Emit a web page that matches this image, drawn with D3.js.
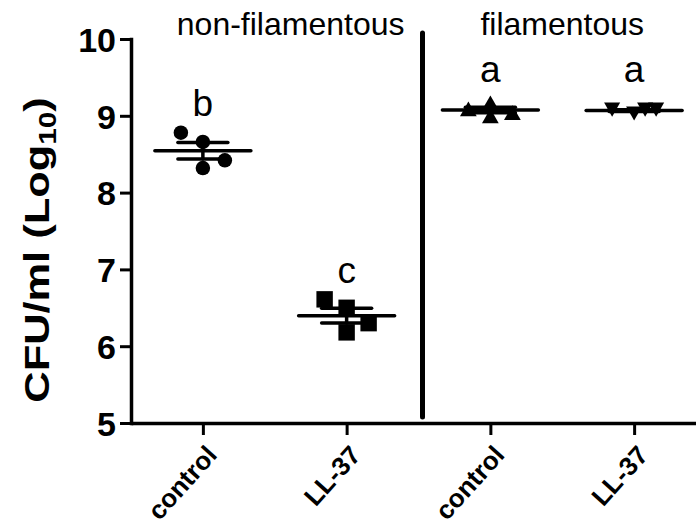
<!DOCTYPE html>
<html>
<head>
<meta charset="utf-8">
<script src="https://cdn.jsdelivr.net/npm/d3@7"></script>
<style>
    body { margin: 0; background: #fff; }
    text { font-family: "Liberation Sans", Arial, Helvetica, sans-serif; fill: #000; }
</style>
</head>
<body>
<svg id="chart" width="696" height="529"></svg>
<script>
// groups (left to right) and their tick labels
const groups = ["nf-control", "nf-LL37", "f-control", "f-LL37"];
const tickLabels = ["control", "LL-37", "control", "LL-37"];
const symbolKinds = ["circle", "square", "triangleUp", "triangleDown"];

// CFU/ml (log10) for each replicate
const nfControl = [8.78, 8.66, 8.42, 8.32];
const nfLL37 = [6.61, 6.50, 6.30, 6.18];
const fControl = [9.17, 9.09, 9.00, 9.04];
const fLL37 = [9.08, 9.03, 9.08, 9.08];
const replicates = [nfControl, nfLL37, fControl, fLL37];

// significance letters and the height (in log10 units) where they sit
const letters = ["b", "c", "a", "a"];
const letterAt = [9.0, 6.82, 9.44, 9.44];

const panelTitles = ["non-filamentous", "filamentous"];
const yTicks = [5, 6, 7, 8, 9, 10];

const svg = d3.select("#chart");

const x = d3.scalePoint().domain(groups).range([131, 706]).padding(0.5);
const y = d3.scaleLinear().domain([5, 10]).range([423, 39]);

// y axis
const yAxis = svg.append("g")
    .attr("transform", "translate(131,0)")
    .call(d3.axisLeft(y).tickValues(yTicks).tickFormat(d3.format("d"))
        .tickSize(11).tickSizeOuter(0).tickPadding(4));
yAxis.select(".domain").attr("stroke-width", 3.5).attr("stroke-linecap", "square");
yAxis.selectAll(".tick line").attr("stroke-width", 3);
yAxis.selectAll(".tick text")
    .attr("font-size", 34)
    .attr("font-weight", "bold")
    .attr("dy", "0.36em");

// x axis
const xAxis = svg.append("g")
    .attr("transform", `translate(0,${y(5)})`)
    .call(d3.axisBottom(x).tickSize(12).tickSizeOuter(0).tickFormat((d, i) => tickLabels[i]));
xAxis.select(".domain").attr("stroke-width", 3.5);
xAxis.selectAll(".tick line").attr("stroke-width", 3);
xAxis.selectAll(".tick text")
    .attr("font-size", 26)
    .attr("font-weight", "bold")
    .attr("text-anchor", "end")
    .attr("y", 0)
    .attr("dy", 0)
    .attr("transform", "translate(15,33) rotate(-48)");

svg.selectAll("g").attr("font-family", null);
svg.selectAll(".domain, .tick line").attr("stroke", "#000");
svg.selectAll(".tick text").attr("fill", "#000");

// divider between the two panels
const divX = (x(groups[1]) + x(groups[2])) / 2 + 4;
svg.append("line")
    .attr("x1", divX).attr("x2", divX)
    .attr("y1", y(10) - 6).attr("y2", y(5) - 6)
    .attr("stroke", "#000")
    .attr("stroke-width", 5)
    .attr("stroke-linecap", "round");

// panel titles
svg.append("text")
    .attr("x", divX - 18).attr("y", 35)
    .attr("text-anchor", "end")
    .attr("font-size", 32)
    .text(panelTitles[0]);
svg.append("text")
    .attr("x", (x(groups[2]) + x(groups[3])) / 2).attr("y", 35)
    .attr("text-anchor", "middle")
    .attr("font-size", 32)
    .text(panelTitles[1]);

// y title with subscript
const yTitle = svg.append("text")
    .attr("transform", `translate(49,${(y(5) + y(10)) / 2 + 19}) rotate(-90) scale(1.24,1)`)
    .attr("text-anchor", "middle")
    .attr("font-size", 35)
    .attr("font-weight", "bold");
yTitle.append("tspan").text("CFU/ml (Log");
yTitle.append("tspan").attr("font-size", 24).attr("dy", 7).text("10");
yTitle.append("tspan").attr("dy", -7).text(")");

// symbols
function triangle(dir) {
    return {
        draw(ctx, size) {
            const w = Math.sqrt(size), h = w * 0.88;
            ctx.moveTo(0, -dir * h / 2);
            ctx.lineTo(w / 2, dir * h / 2);
            ctx.lineTo(-w / 2, dir * h / 2);
            ctx.closePath();
        }
    };
}
const symbolTypes = {
    circle: [d3.symbolCircle, 165],
    square: [d3.symbolSquare, 270],
    triangleUp: [triangle(1), 280],
    triangleDown: [triangle(-1), 260]
};

// GraphPad-like horizontal spread: points that overlap get pushed sideways
function spread(vals, step) {
    const order = d3.range(vals.length).sort((a, b) => vals[a] - vals[b]);
    const placed = [];
    const offsets = new Array(vals.length).fill(0);
    const cands = [1, -1, 0.5, -0.5, 1.5, -1.5, 2, -2];
    let side = 1;
    for (const i of order) {
        const py = y(vals[i]);
        const hit = o => placed.some(p => Math.abs(p.dx - o) < 10 && Math.abs(p.y - py) < 11);
        let pick = 0;
        if (hit(0)) {
            for (const c of cands) {
                if (!hit(c * side * step)) { pick = c * side * step; break; }
            }
            side = -side;
        }
        offsets[i] = pick;
        placed.push({ dx: pick, y: py });
    }
    return offsets;
}

groups.forEach((g, gi) => {
    const vals = replicates[gi];
    const cx = x(g);
    const offs = spread(vals, 22);
    const [type, size] = symbolTypes[symbolKinds[gi]];
    const gg = svg.append("g");

    gg.selectAll("path")
        .data(vals)
        .join("path")
        .attr("transform", (d, i) => `translate(${cx + offs[i]},${y(d)})`)
        .attr("d", d3.symbol().type(type).size(size))
        .attr("fill", "#000");

    const m = d3.mean(vals);
    const sem = d3.deviation(vals) / Math.sqrt(vals.length);
    const lines = [
        [cx - 48, cx + 48, y(m), y(m)],
        [cx - 25, cx + 25, y(m + sem), y(m + sem)],
        [cx - 25, cx + 25, y(m - sem), y(m - sem)],
        [cx, cx, y(m + sem), y(m - sem)]
    ];
    gg.selectAll("line")
        .data(lines)
        .join("line")
        .attr("x1", d => d[0]).attr("x2", d => d[1])
        .attr("y1", d => d[2]).attr("y2", d => d[3])
        .attr("stroke", "#000")
        .attr("stroke-width", 3.5)
        .attr("stroke-linecap", "round");

    svg.append("text")
        .attr("x", cx)
        .attr("y", y(letterAt[gi]))
        .attr("text-anchor", "middle")
        .attr("font-size", 37)
        .text(letters[gi]);
});
</script>
</body>
</html>
